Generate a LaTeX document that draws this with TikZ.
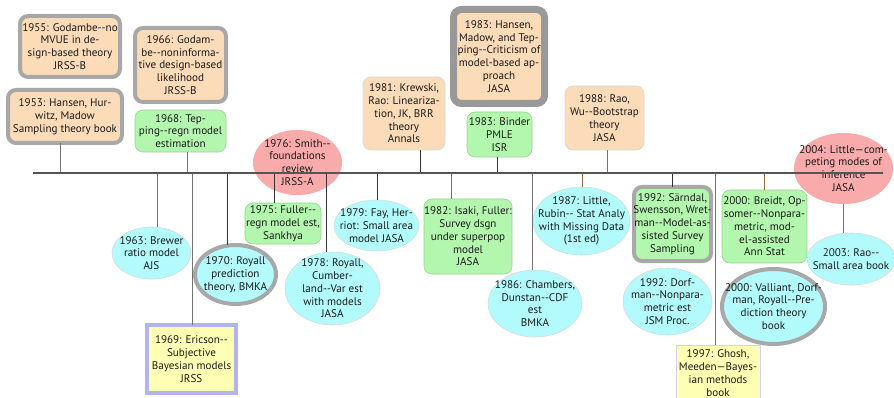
\documentclass[tikz,border=0pt]{standalone}
\usepackage{fontspec}
\setmainfont{PT Sans}
\usetikzlibrary{shapes.geometric}
\definecolor{peach}{HTML}{FBDBB8}
\definecolor{mint}{HTML}{B3F7AE}
\definecolor{aqua}{HTML}{B2FAFC}
\definecolor{rose}{HTML}{F9ABAB}
\definecolor{lemon}{HTML}{FFFFB3}
\definecolor{lav}{HTML}{B3B3F2}
\definecolor{frame}{HTML}{A8A8A8}
\definecolor{framedark}{HTML}{999999}
\definecolor{tline}{HTML}{555555}
\definecolor{brn}{HTML}{9A6A30}
\definecolor{tpeach}{HTML}{3C3228}
\definecolor{taqua}{HTML}{1E4650}
\definecolor{tdark}{HTML}{1A1A1A}
\newcommand\dd{-\kern0pt-}
\newcommand\mknode[7]{%
  \node[#6, minimum width=#4pt, minimum height=#5pt] (#1) at (#2,#3) {};
  \node[txt] (#1t) at (#1.center) {#7};
}
\tikzset{
  base/.style={inner sep=0pt, outer sep=0pt},
  txt/.style={base, align=center, font=\fontsize{11.1}{12.8}\selectfont, text=tdark},
  pbox/.style={base, rectangle, rounded corners=8pt, fill=peach, draw=black!15, line width=0.8pt},
  pboxthick/.style={pbox, draw=frame, line width=4pt},
  gbox/.style={base, rectangle, rounded corners=8pt, fill=mint, draw=mint!85!black, line width=0.6pt},
  gboxthick/.style={gbox, draw=frame, line width=4pt},
  cell/.style={base, ellipse, fill=aqua, draw=black!15, line width=0.6pt},
  cellthick/.style={cell, draw=frame, line width=4pt},
  rell/.style={base, ellipse, fill=rose, draw=none},
  ybox/.style={base, rectangle, fill=lemon, draw=lav, line width=4pt},
  yboxthin/.style={base, rectangle, fill=lemon, draw=lav!60, line width=1pt},
  conn/.style={draw=black!80, line width=0.8pt},
  conngray/.style={draw=black!55, line width=0.8pt},
  connbrn/.style={draw=brn, line width=0.8pt},
  timeline/.style={draw=tline, line width=1.1pt}
}
\begin{document}
\begin{tikzpicture}[x=1pt,y=-1pt]
\useasboundingbox (0,0) rectangle (894,398);
% nodes
\mknode{n1955}{70}{46.5}{100}{61}{pboxthick}{1955: Godambe\dd no\\MVUE in de-\\sign-based theory\\JRSS-B}
\mknode{n1953}{65}{116.5}{114}{53}{pboxthick}{1953: Hansen, Hur-\\witz, Madow\\Sampling theory book}
\mknode{n1966}{180.5}{65}{91}{74}{pboxthick}{1966: Godam-\\be\dd noninforma-\\tive design-based\\likelihood\\JRSS-B}
\mknode{n1968}{180.5}{131}{91}{42}{gbox}{1968: Tep-\\ping\dd regn model\\estimation}
\mknode{n1963}{151.5}{253}{79}{52}{cell}{1963: Brewer\\ratio model\\AJS}
\mknode{n1969}{191.5}{359}{89}{68}{ybox}{1969: Ericson\dd\\Subjective\\Bayesian models\\JRSS}
\mknode{n1970}{235.5}{274.5}{81}{59}{cellthick}{1970: Royall\\prediction\\theory, BMKA}
\mknode{n1976}{297.5}{162.5}{89}{65}{rell}{1976: Smith\dd\\foundations\\review\\JRSS-A}
\mknode{n1975}{283}{223.5}{76}{41}{gbox}{1975: Fuller\dd\\regn model est,\\Sankhya}
\mknode{n1978}{332.5}{288.5}{95}{73}{cell}{1978: Royall,\\Cumber-\\land\dd Var est\\with models\\JASA}
\mknode{n1979}{376.5}{225.5}{85}{51}{cell}{1979: Fay, Her-\\riot: Small area\\model JASA}
\mknode{n1981}{404}{113.5}{82}{73}{pbox}{1981: Krewski,\\Rao: Lineariza-\\tion, JK, BRR\\theory\\Annals}
\mknode{n1982}{468}{236.5}{88}{75}{gbox}{1982: Isaki, Fuller:\\Survey dsgn\\under superpop\\model\\JASA}
\mknode{n1983h}{499}{56.5}{91}{94}{pbox, draw=framedark, line width=7pt}{1983: Hansen,\\Madow, and Tep-\\ping\dd Criticism of\\model-based ap-\\proach\\JASA}
\mknode{n1983b}{499.5}{134.5}{65}{45}{gbox}{1983: Binder\\PMLE\\ISR}
\mknode{n1986}{535}{303.5}{94}{67}{cell}{1986: Chambers,\\Dunstan\dd CDF\\est\\BMKA}
\mknode{n1987}{581.5}{221}{97}{68}{cell}{1987: Little,\\Rubin\dd{} Stat Analy\\with Missing Data\\(1st ed)}
\mknode{n1988}{604.5}{118}{79}{64}{pbox}{1988: Rao,\\Wu\dd Bootstrap\\theory\\JASA}
\mknode{n1992s}{672.5}{224}{77}{74}{gboxthick}{1992: Särndal,\\Swensson, Wret-\\man\dd Model-as-\\sisted Survey\\Sampling}
\mknode{n1992d}{667.5}{301.5}{89}{67}{cell}{1992: Dorf-\\man\dd Nonpara-\\metric est\\JSM Proc.}
\mknode{n1997}{718}{373}{84}{56}{yboxthin}{1997: Ghosh,\\Meeden—Bayes-\\ian methods\\book}
\mknode{n2000b}{764.5}{226.5}{85}{73}{gbox}{2000: Breidt, Op-\\somer\dd Nonpara-\\metric, mod-\\el-assisted\\Ann Stat}
\mknode{n2000v}{773.5}{306.5}{103}{75}{cellthick}{2000: Valliant, Dorf-\\man, Royall\dd Pre-\\diction theory\\book}
\mknode{n2004}{843.5}{168.5}{99}{71}{rell}{2004: Little—com-\\peting modes of\\inference\\JASA}
\mknode{n2003}{851}{259}{88}{52}{cell}{2003: Rao\dd\\Small area book}
% timeline anchor points
\coordinate (tlL) at (33,173);
\coordinate (tlR) at (883,173);
\coordinate (c53) at (60,173);
\coordinate (c63) at (157,173);
\coordinate (c68) at (187,173);
\coordinate (c69) at (192,173);
\coordinate (c70) at (227,173);
\coordinate (c75) at (274,173);
\coordinate (c78) at (326,173);
\coordinate (c79) at (377,173);
\coordinate (c81) at (420,173);
\coordinate (c82) at (451,173);
\coordinate (c83) at (497,173);
\coordinate (c86) at (532,173);
\coordinate (c87) at (582,173);
\coordinate (c88) at (607,173);
\coordinate (c92) at (672,173);
\coordinate (c97) at (715,173);
\coordinate (c00) at (764,173);
% connectors
\draw[conngray] (c53) -- (c53 |- n1953.south);
\draw[conngray] (c63) -- (c63 |- n1963.north);
\draw[conngray] (c68) -- (c68 |- n1968.south);
\draw[conngray] (c69) -- (c69 |- n1969.north);
\draw[conn] (c70) -- (c70 |- n1970.north);
\draw[conn] (c75) -- (c75 |- n1975.north);
\draw[conn] (c78) -- (c78 |- n1978.north);
\draw[conn] (c79) -- (c79 |- n1979.north);
\draw[conn] (c81) -- (c81 |- n1981.south);
\draw[connbrn] (c82) -- (c82 |- n1982.north);
\draw[conn] (c83) -- (c83 |- n1983b.south);
\draw[conngray] (c86) -- (c86 |- n1986.north);
\draw[connbrn] (c87) -- (c87 |- n1987.north);
\draw[conngray] (c88) -- (c88 |- n1988.south);
\draw[conn] (c92) -- (c92 |- n1992s.north);
\draw[conngray] (c97) -- (c97 |- n1997.north);
\draw[connbrn] (c00) -- (c00 |- n2000b.north);
\draw[conngray] (n2004.south) -- (n2004.south |- n2003.north);
% timeline
\draw[timeline] (tlL) -- (tlR);
\end{tikzpicture}
\end{document}
